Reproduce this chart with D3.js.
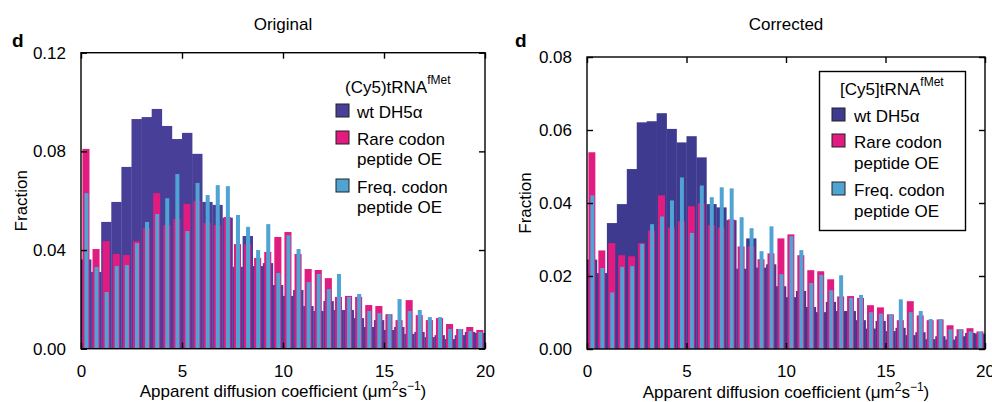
<!DOCTYPE html>
<html><head><meta charset="utf-8">
<script src="https://cdn.jsdelivr.net/npm/d3@7"></script>
<style>
html,body{margin:0;padding:0;background:#fff;}
svg{display:block;font-family:"Liberation Sans",Arial,Helvetica,sans-serif;}
</style></head>
<body>
<svg id="chart" width="992" height="402"></svg>
<script>
// Bin left edges (µm^2 s^-1), bin width 0.5
const binStarts = [0,0.5,1,1.5,2,2.5,3,3.5,4,4.5,5,5.5,6,6.5,7,7.5,8,8.5,9,9.5,
  10,10.5,11,11.5,12,12.5,13,13.5,14,14.5,15,15.5,16,16.5,17,17.5,18,18.5,19,19.5];
const binWidth = 0.5;

// Original panel
const origWt = [0.0362,0.0311,0.0514,0.0595,0.0737,0.0931,0.0939,0.0972,0.0903,0.0850,
  0.0875,0.0790,0.0595,0.0583,0.0531,0.0332,0.0457,0.0335,0.0347,0.0258,
  0.0214,0.0238,0.0173,0.0153,0.0193,0.0157,0.0157,0.0124,0.0088,0.0116,
  0.0076,0.0088,0.0060,0.0068,0.0047,0.0055,0.0039,0.0055,0.0068,0.0064];
const origRare = [0.0810,0.0404,0.0436,0.0384,0.0380,0.0436,0.0489,0.0631,0.0501,0.0526,
  0.0587,0.0599,0.0510,0.0501,0.0534,0.0424,0.0424,0.0368,0.0392,0.0453,
  0.0473,0.0384,0.0323,0.0319,0.0286,0.0210,0.0214,0.0210,0.0177,0.0173,
  0.0140,0.0116,0.0197,0.0136,0.0116,0.0124,0.0100,0.0080,0.0088,0.0076];
const origFreq = [0.0631,0.0331,0.0230,0.0335,0.0339,0.0428,0.0514,0.0546,0.0610,0.0708,
  0.0477,0.0672,0.0623,0.0663,0.0659,0.0542,0.0494,0.0400,0.0505,0.0307,
  0.0460,0.0404,0.0270,0.0303,0.0242,0.0303,0.0210,0.0222,0.0153,0.0144,
  0.0140,0.0201,0.0153,0.0157,0.0128,0.0128,0.0080,0.0080,0.0072,0.0068];

// Corrected panel
const corrWt = [0.0245,0.0208,0.0345,0.0397,0.0493,0.0621,0.0624,0.0646,0.0603,0.0566,
  0.0583,0.0525,0.0397,0.0388,0.0353,0.0220,0.0303,0.0223,0.0232,0.0172,
  0.0142,0.0159,0.0115,0.0101,0.0129,0.0104,0.0104,0.0079,0.0056,0.0077,
  0.0049,0.0058,0.0038,0.0046,0.0027,0.0035,0.0026,0.0035,0.0044,0.0042];
const corrRare = [0.0539,0.0270,0.0290,0.0257,0.0254,0.0290,0.0325,0.0421,0.0333,0.0350,
  0.0391,0.0399,0.0339,0.0333,0.0355,0.0281,0.0281,0.0246,0.0262,0.0303,
  0.0314,0.0257,0.0216,0.0213,0.0191,0.0144,0.0145,0.0140,0.0120,0.0114,
  0.0095,0.0079,0.0131,0.0092,0.0079,0.0081,0.0065,0.0054,0.0057,0.0048];
const corrFreq = [0.0421,0.0222,0.0155,0.0225,0.0227,0.0288,0.0342,0.0363,0.0407,0.0470,
  0.0318,0.0448,0.0416,0.0443,0.0440,0.0361,0.0331,0.0268,0.0336,0.0205,
  0.0309,0.0271,0.0181,0.0203,0.0161,0.0202,0.0140,0.0148,0.0101,0.0097,
  0.0095,0.0136,0.0101,0.0104,0.0082,0.0082,0.0054,0.0054,0.0048,0.0047];

const xTicks = [0,5,10,15,20];
const origYTicks = [0,0.04,0.08,0.12];
const corrYTicks = [0,0.02,0.04,0.06,0.08];
const seriesNames = ["wt DH5\u03b1", ["Rare codon","peptide OE"], ["Freq. codon","peptide OE"]];
const colors = ["#473e98","#e11b7f","#4fa4d3"];

const svg = d3.select("#chart");

function panel(cfg){
  const g = svg.append("g");
  const x = d3.scaleLinear().domain([0,20]).range([cfg.x0,cfg.x1]);
  const y = d3.scaleLinear().domain([0,cfg.yMax]).range([cfg.y1,cfg.y0]);
  const bw = x(binWidth)-x(0);

  g.selectAll(".wt").data(binStarts).join("rect")
    .attr("x", d=>x(d)).attr("width", bw+0.3)
    .attr("y", (d,i)=>y(cfg.wt[i])).attr("height",(d,i)=>y(0)-y(cfg.wt[i]))
    .attr("fill", cfg.wtColor);
  g.selectAll(".rare").data(binStarts).join("rect")
    .attr("x", d=>x(d+binWidth*0.14)).attr("width", bw*0.70)
    .attr("y", (d,i)=>y(cfg.rare[i])).attr("height",(d,i)=>y(0)-y(cfg.rare[i]))
    .attr("fill", colors[1]);
  g.selectAll(".freq").data(binStarts).join("rect")
    .attr("x", d=>x(d+binWidth*0.34)).attr("width", bw*0.40)
    .attr("y", (d,i)=>y(cfg.freq[i])).attr("height",(d,i)=>y(0)-y(cfg.freq[i]))
    .attr("fill", colors[2]);

  g.append("rect").attr("x",cfg.x0).attr("y",cfg.y0)
    .attr("width",cfg.x1-cfg.x0).attr("height",cfg.y1-cfg.y0)
    .attr("fill","none").attr("stroke","#000").attr("stroke-width",1.4);

  const tl = 6;
  const ax = g.append("g").attr("transform",`translate(0,${cfg.y1})`)
    .call(d3.axisBottom(x).tickValues(xTicks).tickSizeInner(-tl).tickSizeOuter(0).tickPadding(tl+10));
  const axT = g.append("g").attr("transform",`translate(0,${cfg.y0})`)
    .call(d3.axisTop(x).tickValues(xTicks).tickSizeInner(-tl).tickSizeOuter(0).tickFormat(""));
  const ay = g.append("g").attr("transform",`translate(${cfg.x0},0)`)
    .call(d3.axisLeft(y).tickValues(cfg.yTicks).tickFormat(d3.format(".2f")).tickSizeInner(-tl).tickSizeOuter(0).tickPadding(tl+9));
  const ayR = g.append("g").attr("transform",`translate(${cfg.x1},0)`)
    .call(d3.axisRight(y).tickValues(cfg.yTicks).tickSizeInner(-tl).tickSizeOuter(0).tickFormat(""));
  [ax,axT,ay,ayR].forEach(a=>{
    a.select(".domain").remove();
    a.selectAll(".tick line").attr("stroke","#000").attr("stroke-width",1.4);
    a.selectAll("text").attr("font-size",17).attr("fill","#000")
      .attr("font-family","'Liberation Sans',Arial,sans-serif");
  });

  const mid = (cfg.x0+cfg.x1)/2;
  g.append("text").attr("x",mid).attr("y",30).attr("text-anchor","middle")
    .attr("font-size",17).text(cfg.title);
  g.append("text").attr("x",cfg.dX).attr("y",47).attr("font-size",19)
    .attr("font-weight","bold").text("d");
  g.append("text").attr("transform",`translate(${cfg.ylX},${(cfg.y0+cfg.y1)/2}) rotate(-90)`)
    .attr("text-anchor","middle").attr("font-size",17).text("Fraction");
  const xl = g.append("text").attr("x",mid).attr("y",cfg.xlY).attr("text-anchor","middle").attr("font-size",17);
  xl.append("tspan").text("Apparent diffusion coefficient (\u03bcm");
  xl.append("tspan").attr("font-size",12).attr("dy",-7).text("2");
  xl.append("tspan").attr("dy",7).text("s");
  xl.append("tspan").attr("font-size",12).attr("dy",-7).text("\u22121");
  xl.append("tspan").attr("dy",7).text(")");

  const L = cfg.legend;
  if (L.box) {
    g.append("rect").attr("x",L.bx).attr("y",L.by).attr("width",L.bw).attr("height",L.bh)
      .attr("fill","#fff").attr("stroke","#000").attr("stroke-width",1.4);
  }
  const lt = g.append("text").attr("x",L.tx).attr("y",L.ty).attr("font-size",17);
  lt.append("tspan").text(L.title);
  lt.append("tspan").attr("font-size",12).attr("dy",-9).text("fMet");
  const swC = [cfg.wtColor, colors[1], colors[2]];
  L.rows.forEach((r,i)=>{
    g.append("rect").attr("x",L.sx).attr("y",r-13).attr("width",13).attr("height",13)
      .attr("fill",swC[i]).attr("stroke","#222").attr("stroke-width",1);
    const name = seriesNames[i];
    const lines = Array.isArray(name)?name:[name];
    lines.forEach((ln,j)=>{
      g.append("text").attr("x",L.textX).attr("y",r+1+j*L.lh).attr("font-size",17).text(ln);
    });
  });
}

panel({x0:81,x1:485,y0:52.7,y1:348.7,yMax:0.12,yTicks:origYTicks,title:"Original",
  wt:origWt,rare:origRare,freq:origFreq,wtColor:"#483f99",dX:12,ylX:27,xlY:397,
  legend:{box:false,title:"(Cy5)tRNA",tx:345,ty:93,sx:336,textX:357,rows:[117,144,192],lh:20}});
panel({x0:587,x1:985,y0:57,y1:349,yMax:0.08,yTicks:corrYTicks,title:"Corrected",
  wt:corrWt,rare:corrRare,freq:corrFreq,wtColor:"#3d3a8f",dX:515,ylX:531,xlY:397.5,
  legend:{box:true,bx:819.5,by:71.5,bw:146,bh:159,title:"[Cy5]tRNA",tx:840,ty:95,sx:832,textX:854,rows:[121,147,195],lh:21}});
</script>
</body></html>
